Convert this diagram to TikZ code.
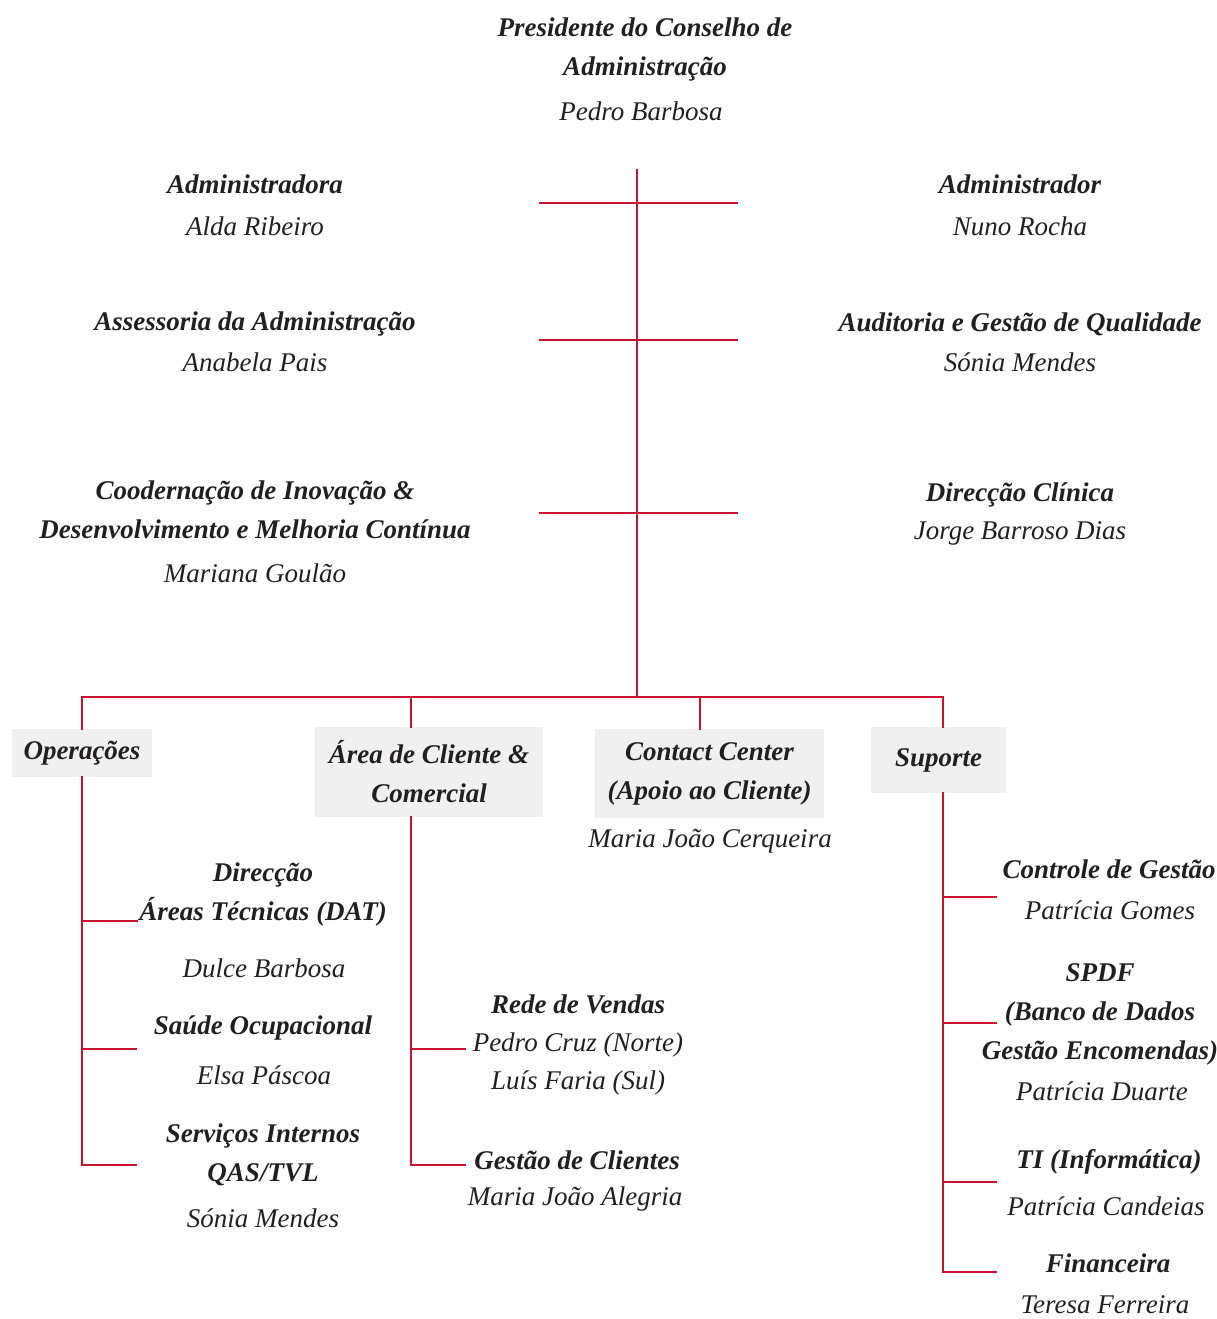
\documentclass[tikz,border=0pt]{standalone}
\usepackage{fontspec}
\setmainfont{Liberation Serif}
\definecolor{lred}{RGB}{200,18,48}
\definecolor{boxgray}{RGB}{240,240,240}
\definecolor{ink}{RGB}{35,31,32}
\begin{document}
\begin{tikzpicture}[x=1pt,y=-1pt,
  ttl/.style={font=\fontsize{27}{39}\selectfont\bfseries\itshape, align=center, inner sep=0pt, text=ink},
  nm/.style={font=\fontsize{27}{38}\selectfont\itshape, align=center, inner sep=0pt, text=ink},
  unitbox/.style={ttl, fill=boxgray},
  ln/.style={draw=lred, line width=2.6pt, line cap=rect, line join=miter}]
\useasboundingbox (0,0) rectangle (1217,1319);

% ---- top text ----
\node[ttl] (pres) at (645,49.5) {Presidente do Conselho de\\Administração};
\node[nm]  (presn) at (641,111) {Pedro Barbosa};

\node[ttl] (admL) at (255,184) {Administradora};
\node[nm]  (admLn) at (255,226) {Alda Ribeiro};
\node[ttl] (admR) at (1020,184) {Administrador};
\node[nm]  (admRn) at (1020,226) {Nuno Rocha};

\node[ttl] (ass) at (255,324) {Assessoria da Administração};
\node[nm]  (assn) at (255,362) {Anabela Pais};
\node[ttl] (aud) at (1020,324) {Auditoria e Gestão de Qualidade};
\node[nm]  (audn) at (1020,362) {Sónia Mendes};

\node[ttl] (coo) at (255,509.5) {Coodernação de Inovação \&\\Desenvolvimento e Melhoria Contínua};
\node[nm]  (coon) at (255,573) {Mariana Goulão};
\node[ttl] (dcl) at (1020,495) {Direcção Clínica};
\node[nm]  (dcln) at (1020,533) {Jorge Barroso Dias};

% ---- unit boxes ----
\node[unitbox, minimum width=140, minimum height=48] (ops) at (82,753) {Operações};
\node[unitbox, minimum width=228, minimum height=90] (area) at (429,772) {Área de Cliente \&\\Comercial};
\node[unitbox, minimum width=229, minimum height=89] (cc) at (709.5,773.5) {Contact Center\\(Apoio ao Cliente)};
\node[nm] (ccn) at (710,841) {Maria João Cerqueira};
\node[unitbox, minimum width=135, minimum height=66] (sup) at (938.5,760) {Suporte};

% ---- Operações ----
\node[ttl] (dat) at (263,894) {Direcção\\Áreas Técnicas (DAT)};
\node[nm]  (datn) at (264,968) {Dulce Barbosa};
\node[ttl] (sau) at (263,1028) {Saúde Ocupacional};
\node[nm]  (saun) at (264,1075) {Elsa Páscoa};
\node[ttl] (srv) at (263,1155) {Serviços Internos\\QAS/TVL};
\node[nm]  (srvn) at (263,1218) {Sónia Mendes};

% ---- Área de Cliente ----
\node[ttl] (rv) at (578,1004) {Rede de Vendas};
\node[nm]  (rvn) at (578,1064) {Pedro Cruz (Norte)\\Luís Faria (Sul)};
\node[ttl] (gc) at (577,1160) {Gestão de Clientes};
\node[nm]  (gcn) at (575,1199) {Maria João Alegria};

% ---- Suporte ----
\node[ttl] (cg) at (1109,869) {Controle de Gestão};
\node[nm]  (cgn) at (1110,910) {Patrícia Gomes};
\node[ttl] (spdf) at (1100,1014) {SPDF\\(Banco de Dados\\Gestão Encomendas)};
\node[nm]  (spdfn) at (1102,1091) {Patrícia Duarte};
\node[ttl] (ti) at (1109,1162) {TI (Informática)};
\node[nm]  (tin) at (1106,1206) {Patrícia Candeias};
\node[ttl] (fin) at (1108,1263) {Financeira};
\node[nm]  (finn) at (1105,1305) {Teresa Ferreira};

% ---- junction coordinates ----
\coordinate (ttop) at (637,170);
\coordinate (tbot) at (637,697);
\coordinate (h1l) at (540,203); \coordinate (h1r) at (737,203);
\coordinate (h2l) at (540,340); \coordinate (h2r) at (737,340);
\coordinate (h3l) at (540,513); \coordinate (h3r) at (737,513);
\coordinate (busL) at (82,697);
\coordinate (busA) at (411,697);
\coordinate (busC) at (700,697);
\coordinate (busR) at (943,697);

\coordinate (o1) at (137,921);
\coordinate (o2) at (136,1049);
\coordinate (o3) at (136,1165);
\coordinate (a1) at (465,1049);
\coordinate (a2) at (465,1165);
\coordinate (s1) at (996,897);
\coordinate (s2) at (996,1023);
\coordinate (s3) at (996,1182);
\coordinate (s4) at (996,1272);

% ---- connectors ----
\draw[ln] (ttop) -- (tbot);
\draw[ln] (h1l) -- (h1r);
\draw[ln] (h2l) -- (h2r);
\draw[ln] (h3l) -- (h3r);
\draw[ln] (busL |- ops.north) -- (busL) -- (busR) -- (busR |- sup.north);
\draw[ln] (busA) -- (busA |- area.north);
\draw[ln] (busC) -- (busC |- cc.north);

\draw[ln] (busL |- ops.south) -- (busL |- o3) -- (o3);
\draw[ln] (busL |- o1) -- (o1);
\draw[ln] (busL |- o2) -- (o2);

\draw[ln] (busA |- area.south) -- (busA |- a2) -- (a2);
\draw[ln] (busA |- a1) -- (a1);

\draw[ln] (busR |- sup.south) -- (busR |- s4) -- (s4);
\draw[ln] (busR |- s1) -- (s1);
\draw[ln] (busR |- s2) -- (s2);
\draw[ln] (busR |- s3) -- (s3);
\end{tikzpicture}
\end{document}
